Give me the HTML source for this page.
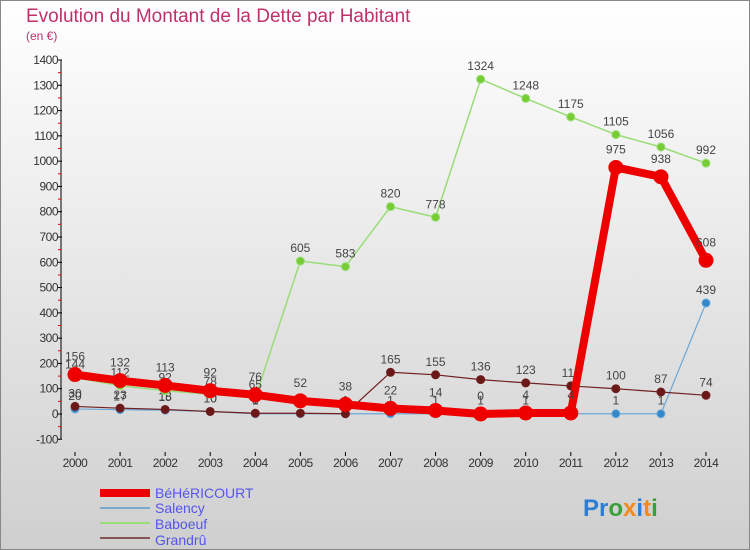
<!DOCTYPE html>
<html><head><meta charset="utf-8"><style>
body{margin:0;width:750px;height:550px;overflow:hidden;font-family:"Liberation Sans",sans-serif}
svg{display:block}
</style></head><body>
<svg id="c" width="750" height="550">
<defs><linearGradient id="bg" x1="0" y1="0" x2="0" y2="1"><stop offset="0" stop-color="#ffffff"/><stop offset="1" stop-color="#cfcfcf"/></linearGradient></defs>
<rect x="0.5" y="0.5" width="749" height="549" fill="url(#bg)" stroke="#888"/>
<text x="26" y="22" font-size="19" fill="#c0306a">Evolution du Montant de la Dette par Habitant</text>
<text x="26" y="40" font-size="12" fill="#c0306a">(en €)</text>
<g id="axes"></g><g id="series"></g>
<g font-size="14" fill="#5555ee">
<rect x="100" y="489" width="50" height="8" fill="#ee0000"/>
<text x="155" y="498" fill="#5555ee">BéHéRICOURT</text>
<rect x="100" y="507" width="50" height="2" fill="#77aacc"/>
<text x="155" y="513" fill="#5555ee">Salency</text>
<rect x="100" y="522" width="50" height="2" fill="#99dd77"/>
<text x="155" y="529" fill="#5555ee">Baboeuf</text>
<rect x="100" y="537" width="50" height="2" fill="#885555"/>
<text x="155" y="545" fill="#5555ee">Grandrû</text>
</g>
<text x="583" y="516" font-size="24" font-weight="bold"><tspan fill="#2a7fd4">Pr</tspan><tspan fill="#3aa03a">o</tspan><tspan fill="#f08a1c">x</tspan><tspan fill="#2a7fd4">i</tspan><tspan fill="#f08a1c">t</tspan><tspan fill="#3aa03a">i</tspan></text>
</svg>
<script>
const years=[2000,2001,2002,2003,2004,2005,2006,2007,2008,2009,2010,2011,2012,2013,2014];
const yTicks=[-100,0,100,200,300,400,500,600,700,800,900,1000,1100,1200,1300,1400];
const behericourt=[156,132,113,92,76,52,38,22,14,0,4,4,975,938,608];
const salency=[20,17,15,10,1,1,1,1,1,1,1,1,1,1,439];
const baboeuf=[144,112,92,78,65,605,583,820,778,1324,1248,1175,1105,1056,992];
const grandru=[30,23,18,10,3,3,1,165,155,136,123,111,100,87,74];
const NS="http://www.w3.org/2000/svg";
const X=y=>75+(y-2000)*(706-75)/14;
const Y=v=>414-v*(414-60)/1400;
function mk(t,a,p){const e=document.createElementNS(NS,t);for(const k in a)e.setAttribute(k,a[k]);p.appendChild(e);return e;}
const ax=document.getElementById('axes');
const yl=mk('line',{x1:61,y1:Y(1400),x2:61,y2:Y(-100),stroke:'#000'},ax);


const xl=mk('line',{x1:61,y1:Y(-100)+12,x2:720,y2:Y(-100)+12,stroke:'#000',opacity:0},ax);
yTicks.forEach(v=>{
 mk('line',{x1:57,x2:62,y1:Y(v),y2:Y(v),stroke:'#000'},ax);
 if(v<1400) mk('line',{x1:58,x2:61,y1:Y(v+50),y2:Y(v+50),stroke:'#e00'},ax);
 const t=mk('text',{x:58,y:Y(v)+4,'text-anchor':'end','font-size':12,fill:'#333','letter-spacing':'-0.5'},ax);
 t.textContent=v;
 
 
});
years.forEach(y=>{
 mk('line',{x1:X(y),x2:X(y),y1:452,y2:456,stroke:'#000'},ax);
 const t=mk('text',{x:X(y),y:467,'text-anchor':'middle','font-size':12,fill:'#333','letter-spacing':'-0.5'},ax);
 t.textContent=y;
 
 
});
const sg=document.getElementById('series');
function series(name,vals,color,w,r,dot,labelDy){
 const g=mk('g',{},sg);
 
 
 const pl=mk('polyline',{points:vals.map((v,i)=>X(years[i])+','+Y(v)).join(' '),fill:'none',stroke:color,'stroke-width':w,'stroke-linejoin':'round'},g);
 
 
 vals.forEach((v,i)=>{
  const c=mk('circle',{cx:X(years[i]),cy:Y(v),r:r,fill:dot,stroke:color,'stroke-width':1},g);
  
  
  const t=mk('text',{x:X(years[i]),y:Y(v)-labelDy,'text-anchor':'middle','font-size':12,fill:'#444'},g);
  t.textContent=v;
  
  
 });
}
series('salency',salency,'#6aa8d8',1.2,4,'#3388cc',9);
series('grandru',grandru,'#702020',1.2,4,'#6a1818',9);
series('baboeuf',baboeuf,'#99dd77',1.5,4,'#77cc33',9);
series('behericourt',behericourt,'#ee0000',8,7,'#ee0000',14);
</script>
</body></html>
